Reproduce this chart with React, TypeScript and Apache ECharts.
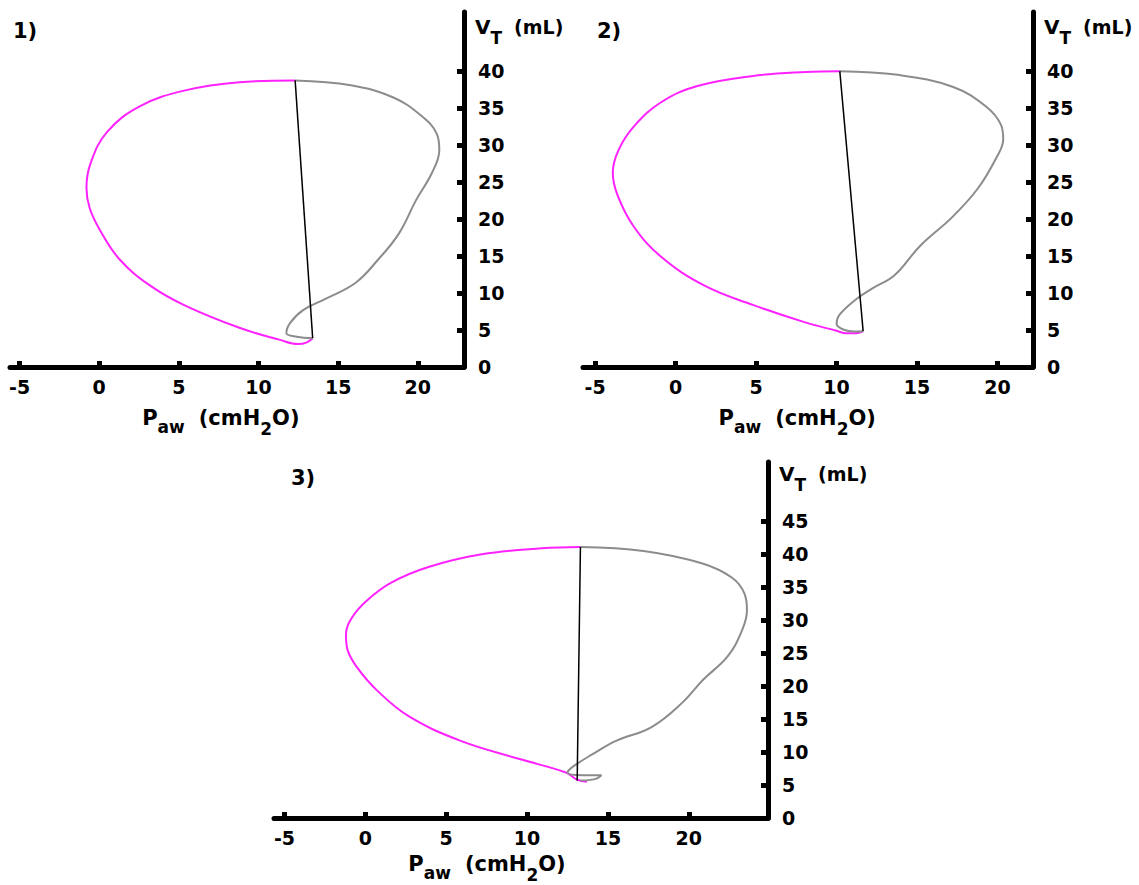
import React, { useEffect, useRef } from 'react';
import * as echarts from 'echarts';

type Pt = [number, number];

// ---------- data (Paw in cmH2O, VT in mL) ----------
const xTickValues = [-5, 0, 5, 10, 15, 20];
const yTickValues12 = [0, 5, 10, 15, 20, 25, 30, 35, 40];
const yTickValues3 = [0, 5, 10, 15, 20, 25, 30, 35, 40, 45];

// Panel 1
const p1Insp: Pt[] = [
  [13.4, 3.9], [13.0, 3.3], [12.5, 3.1], [11.3, 3.7], [8.8, 5.3], [5.4, 8.3], [3.2, 11.0],
  [1.3, 14.5], [0.05, 18.5], [-0.6, 21.5], [-0.8, 24.2], [-0.55, 27.5], [0.5, 31.8],
  [2.6, 35.3], [5.4, 37.4], [8.8, 38.5], [12.3, 38.75],
];
const p1Exp: Pt[] = [
  [12.3, 38.75], [15.8, 38.1], [18.5, 36.4], [20.2, 34.0], [21.2, 31.5], [21.35, 29.3],
  [20.9, 26.3], [19.9, 22.6], [18.8, 18.0], [17.5, 14.5], [16.1, 11.4], [14.2, 9.2],
  [12.8, 7.7], [12.0, 6.0], [11.75, 4.6], [12.4, 4.1], [13.4, 3.9],
];
const p1Chord: Pt[] = [[12.3, 38.75], [13.4, 3.9]];

// Panel 2
const p2Insp: Pt[] = [
  [11.65, 4.85], [11.2, 4.55], [10.6, 4.55], [10.0, 4.9], [8.1, 6.0], [4.8, 8.4], [1.8, 11.0],
  [-0.9, 14.9], [-2.6, 19.0], [-3.6, 23.2], [-3.9, 26.3], [-3.55, 29.3], [-2.6, 32.5],
  [-0.9, 35.8], [1.35, 38.0], [4.8, 39.36], [8.1, 39.9], [10.2, 40.0],
];
const p2Exp: Pt[] = [
  [10.2, 40.0], [13.8, 39.5], [17.2, 37.9], [19.3, 35.2], [20.2, 32.8], [20.35, 30.8],
  [19.9, 28.2], [18.76, 24.1], [17.2, 20.3], [15.2, 16.4], [13.6, 12.4], [12.2, 10.6],
  [11.3, 9.3], [10.2, 7.1], [10.0, 5.8], [10.5, 5.0], [11.1, 4.8], [11.65, 4.85],
];
const p2Chord: Pt[] = [[10.2, 40.0], [11.65, 4.85]];

// Panel 3
const p3Insp: Pt[] = [
  [13.7, 5.5], [13.1, 5.8], [12.4, 6.9], [9.6, 8.9], [5.9, 11.7], [2.7, 15.4], [0.7, 19.4],
  [-0.5, 22.8], [-1.1, 25.5], [-1.2, 27.8], [-0.8, 30.5], [0.1, 33.0], [1.6, 35.7], [3.95, 38.1],
  [7.2, 40.0], [10.9, 40.9], [13.3, 41.1],
];
const p3Exp: Pt[] = [
  [13.3, 41.1], [17.2, 40.5], [20.85, 38.6], [22.7, 36.4], [23.45, 34.0], [23.6, 31.5],
  [23.3, 28.5], [22.4, 24.5], [20.9, 21.0], [19.6, 17.5], [17.7, 13.8], [15.5, 11.7],
  [14.0, 9.6], [12.9, 7.9], [12.5, 6.9], [13.45, 6.5], [14.6, 6.5], [14.2, 5.9], [13.3, 5.7],
];
const p3Chord: Pt[] = [[13.3, 41.1], [13.1, 5.7]];

const titles = ['1)', '2)', '3)'];

// ---------- styling / layout ----------
const FONT = '"DejaVu Sans", Verdana, sans-serif';
const BIG = 21;
const SUB = 17;
const TICK = 19;
const MAGENTA = '#ff22ff';
const GRAY = '#8c8c8c';

const layouts = [
  { grid: { left: 10, top: 12, width: 454, height: 355 }, xMin: -5.6, xMax: 22.9, yMax: 48, yTicks: yTickValues12, titleX: 13, titleY: 31, nameDy: 51 },
  { grid: { left: 583, top: 12, width: 450, height: 355 }, xMin: -5.75, xMax: 22.2, yMax: 48, yTicks: yTickValues12, titleX: 597, titleY: 31, nameDy: 51 },
  { grid: { left: 274, top: 462, width: 494, height: 356 }, xMin: -5.65, xMax: 24.9, yMax: 54, yTicks: yTickValues3, titleX: 291, titleY: 478, nameDy: 46 },
];
const panelData = [
  { insp: p1Insp, exp: p1Exp, chord: p1Chord },
  { insp: p2Insp, exp: p2Exp, chord: p2Chord },
  { insp: p3Insp, exp: p3Exp, chord: p3Chord },
];

let measureCtx: CanvasRenderingContext2D | null = null;
function measure(t: string, size: number): number {
  if (!measureCtx) measureCtx = document.createElement('canvas').getContext('2d');
  if (!measureCtx) return t.length * size * 0.7;
  measureCtx.font = `bold ${size}px ${FONT}`;
  return measureCtx.measureText(t).width;
}

type Part = { t: string; sub?: boolean; dy?: number; gapAfter?: number; size?: number };
function partsLabel(x: number, y: number, parts: Part[]) {
  const els: any[] = [];
  let cx = x;
  for (const p of parts) {
    const size = p.size || (p.sub ? SUB : BIG);
    els.push({
      type: 'text',
      x: cx,
      y: y + (p.dy || 0),
      style: {
        text: p.t,
        fill: '#000',
        fontSize: size,
        fontWeight: 'bold',
        fontFamily: FONT,
        align: 'left',
        verticalAlign: 'middle',
      },
    });
    cx += measure(p.t, size) + (p.gapAfter || 0);
  }
  return els;
}

function buildOption() {
  const grids: any[] = [];
  const xAxes: any[] = [];
  const yAxes: any[] = [];
  const series: any[] = [];
  const graphics: any[] = [];

  layouts.forEach((L, i) => {
    grids.push({ ...L.grid, containLabel: false });
    xAxes.push({
      type: 'value',
      gridIndex: i,
      min: L.xMin,
      max: L.xMax,
      axisLine: { show: true, onZero: false, lineStyle: { color: '#000', width: 5 } },
      axisTick: { show: true, inside: true, length: 6, lineStyle: { color: '#000', width: 5 }, customValues: xTickValues },
      axisLabel: { show: true, customValues: xTickValues, color: '#000', fontSize: TICK, fontWeight: 'bold', fontFamily: FONT, margin: 10 },
      splitLine: { show: false },
    });
    yAxes.push({
      type: 'value',
      gridIndex: i,
      position: 'right',
      min: 0,
      max: L.yMax,
      axisLine: { show: true, onZero: false, lineStyle: { color: '#000', width: 5 } },
      axisTick: { show: true, inside: true, length: 7, lineStyle: { color: '#000', width: 5 }, customValues: L.yTicks.filter((v) => v > 0) },
      axisLabel: { show: true, customValues: L.yTicks, color: '#000', fontSize: TICK, fontWeight: 'bold', fontFamily: FONT, margin: 14 },
      splitLine: { show: false },
    });
    const D = panelData[i];
    series.push(
      { type: 'line', xAxisIndex: i, yAxisIndex: i, data: D.insp, smooth: 0.4, showSymbol: false, symbol: 'none', lineStyle: { color: MAGENTA, width: 2 }, z: 2 },
      { type: 'line', xAxisIndex: i, yAxisIndex: i, data: D.exp, smooth: 0.4, showSymbol: false, symbol: 'none', lineStyle: { color: GRAY, width: 2 }, z: 3 },
      { type: 'line', xAxisIndex: i, yAxisIndex: i, data: D.chord, smooth: false, showSymbol: false, symbol: 'none', lineStyle: { color: '#000', width: 1.5 }, z: 4 },
    );

    const axisX = L.grid.left + L.grid.width;
    const axisY = L.grid.top + L.grid.height;
    const zeroX = L.grid.left + ((0 - L.xMin) / (L.xMax - L.xMin)) * L.grid.width;

    graphics.push({
      type: 'text',
      x: L.titleX,
      y: L.titleY,
      style: { text: titles[i], fill: '#000', fontSize: BIG, fontWeight: 'bold', fontFamily: FONT, align: 'left', verticalAlign: 'middle' },
    });
    graphics.push(
      ...partsLabel(axisX + 11, L.titleY - 4, [
        { t: 'V', size: 20 },
        { t: 'T', sub: true, dy: 11, gapAfter: 12 },
        { t: '(mL)', size: 19 },
      ]),
    );
    graphics.push(
      ...partsLabel(zeroX + 43, axisY + L.nameDy, [
        { t: 'P' },
        { t: 'aw', sub: true, dy: 9, gapAfter: 14 },
        { t: '(cmH' },
        { t: '2', sub: true, dy: 11 },
        { t: 'O)' },
      ]),
    );
  });

  return {
    animation: false,
    backgroundColor: '#fff',
    grid: grids,
    xAxis: xAxes,
    yAxis: yAxes,
    series,
    graphic: { elements: graphics },
  };
}

export default function App() {
  const ref = useRef<HTMLDivElement>(null);
  useEffect(() => {
    if (!ref.current) return;
    const chart = echarts.init(ref.current, undefined, { renderer: 'svg' });
    chart.setOption(buildOption() as any);
    return () => chart.dispose();
  }, []);
  return (
    <div
      ref={ref}
      style={{ position: 'fixed', left: 0, top: 0, width: 1139, height: 885, background: '#fff' }}
    />
  );
}
